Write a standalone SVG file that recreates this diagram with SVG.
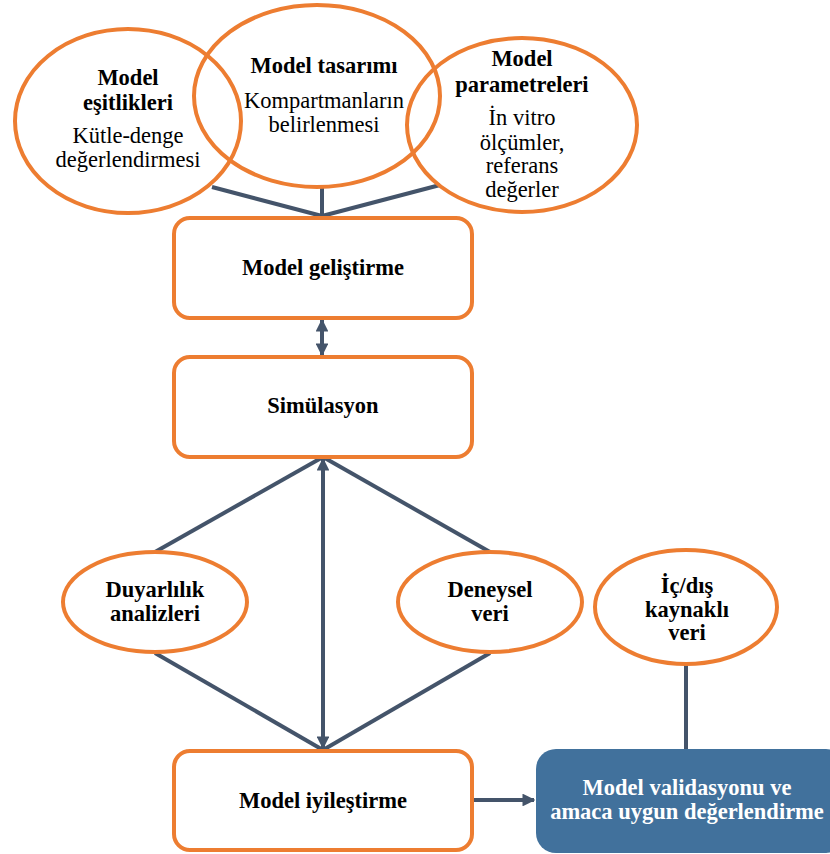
<svg xmlns="http://www.w3.org/2000/svg" width="830" height="854" viewBox="0 0 830 854" font-family="'Liberation Serif', 'Times New Roman', 'DejaVu Serif', serif">
  <style>
    .node-shape { fill: none; stroke: #ED7D31; stroke-width: 4; }
    .box { fill: #FFFFFF; stroke: #ED7D31; stroke-width: 4; }
    .blue { fill: #41719C; stroke: none; }
    .edge { fill: none; stroke: #44546A; stroke-width: 4; }
    text { font-size: 22.5px; fill: #000000; text-anchor: middle; }
    .b { font-weight: bold; }
    .w { fill: #FFFFFF; }
  </style>
  <defs>
    <marker id="head" viewBox="0 0 10 10" refX="9" refY="5" markerWidth="3.2" markerHeight="3.2" orient="auto-start-reverse" markerUnits="strokeWidth">
      <path d="M0,0 L10,5 L0,10 Z" fill="#44546A"/>
    </marker>
  </defs>

  <rect width="830" height="854" fill="#FFFFFF"/>

  <!-- connectors -->
  <g id="connectors">
    <line class="edge" x1="212" y1="187" x2="322" y2="216"/>
    <line class="edge" x1="322" y1="187" x2="322" y2="216"/>
    <line class="edge" x1="440" y1="185" x2="322" y2="216"/>
    <line class="edge" x1="322" y1="320" x2="322" y2="355" marker-start="url(#head)" marker-end="url(#head)"/>
    <line class="edge" x1="323" y1="459" x2="323" y2="748" marker-start="url(#head)" marker-end="url(#head)"/>
    <line class="edge" x1="323" y1="457" x2="155" y2="552"/>
    <line class="edge" x1="323" y1="457" x2="490" y2="552"/>
    <line class="edge" x1="155" y1="653" x2="323" y2="750"/>
    <line class="edge" x1="490" y1="653" x2="323" y2="750"/>
    <line class="edge" x1="686" y1="664" x2="686" y2="749"/>
    <line class="edge" x1="473" y1="800" x2="534" y2="800" marker-end="url(#head)"/>
  </g>

  <!-- top ellipses -->
  <g id="model-esitlikleri">
    <ellipse class="node-shape" cx="128" cy="121" rx="113" ry="92"/>
    <text class="b" x="128" y="85">Model</text>
    <text class="b" x="128" y="110">eşitlikleri</text>
    <text x="128" y="143">Kütle-denge</text>
    <text x="128" y="167">değerlendirmesi</text>
  </g>
  <g id="model-tasarimi">
    <ellipse class="node-shape" cx="317" cy="96" rx="123" ry="91"/>
    <text class="b" x="324" y="73">Model tasarımı</text>
    <text x="324" y="108">Kompartmanların</text>
    <text x="324" y="132">belirlenmesi</text>
  </g>
  <g id="model-parametreleri">
    <ellipse class="node-shape" cx="522" cy="125" rx="115" ry="87"/>
    <text class="b" x="522" y="66">Model</text>
    <text class="b" x="522" y="92">parametreleri</text>
    <text x="522" y="125">İn vitro</text>
    <text x="522" y="150">ölçümler,</text>
    <text x="522" y="173">referans</text>
    <text x="522" y="197">değerler</text>
  </g>

  <!-- process boxes -->
  <g id="model-gelistirme">
    <rect class="box" x="174" y="218" width="298" height="100" rx="16"/>
    <text class="b" x="323" y="275">Model geliştirme</text>
  </g>
  <g id="simulasyon">
    <rect class="box" x="174" y="357" width="298" height="100" rx="16"/>
    <text class="b" x="323" y="413">Simülasyon</text>
  </g>
  <g id="model-iyilestirme">
    <rect class="box" x="174" y="751" width="298" height="99" rx="16"/>
    <text class="b" x="323" y="808">Model iyileştirme</text>
  </g>

  <!-- side ellipses -->
  <g id="duyarlilik-analizleri">
    <ellipse class="box" cx="155" cy="602" rx="92" ry="50"/>
    <text class="b" x="155" y="597">Duyarlılık</text>
    <text class="b" x="155" y="621">analizleri</text>
  </g>
  <g id="deneysel-veri">
    <ellipse class="box" cx="490" cy="602" rx="92" ry="50"/>
    <text class="b" x="490" y="597">Deneysel</text>
    <text class="b" x="490" y="621">veri</text>
  </g>
  <g id="ic-dis-kaynakli-veri">
    <ellipse class="box" cx="686" cy="607" rx="91" ry="57"/>
    <text class="b" x="687" y="593">İç/dış</text>
    <text class="b" x="687" y="617">kaynaklı</text>
    <text class="b" x="687" y="640">veri</text>
  </g>

  <!-- validation box -->
  <g id="model-validasyonu">
    <rect class="blue" x="536" y="749" width="310" height="104" rx="20"/>
    <text class="b w" x="687" y="795">Model validasyonu ve</text>
    <text class="b w" x="687" y="819">amaca uygun değerlendirme</text>
  </g>
</svg>
